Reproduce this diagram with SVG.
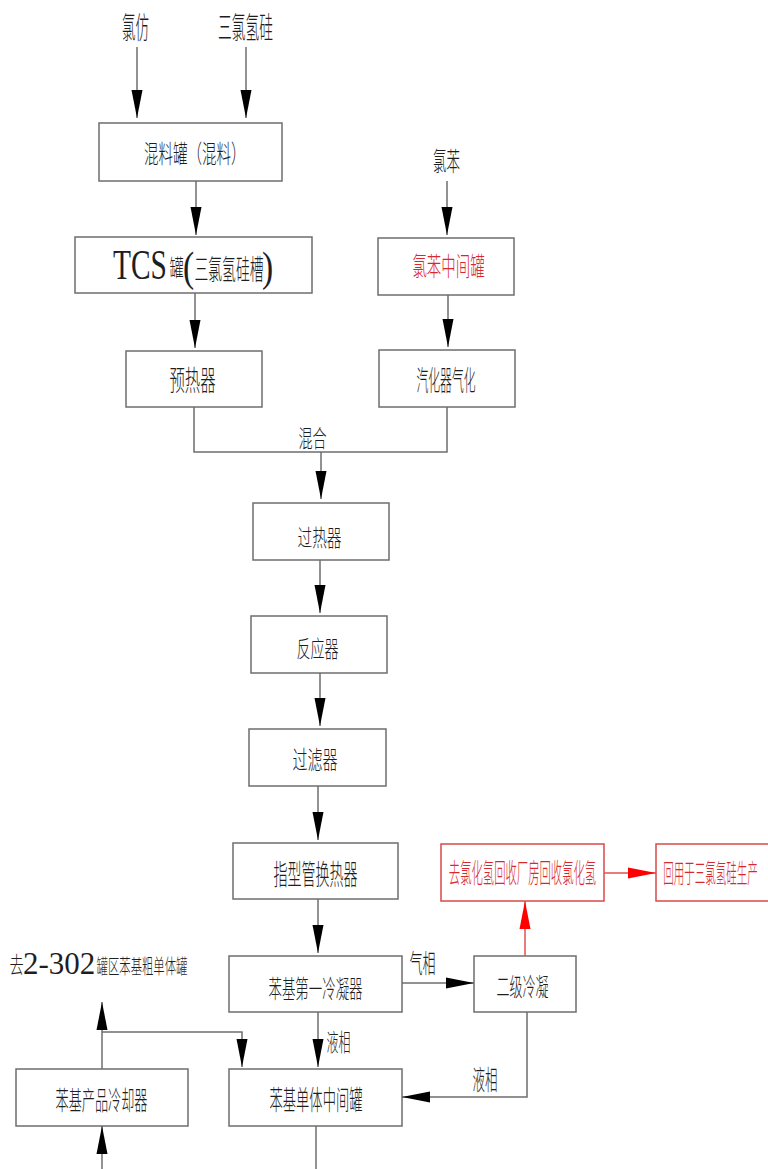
<svg xmlns="http://www.w3.org/2000/svg" width="768" height="1169" viewBox="0 0 768 1169">
  <defs>
    <marker id="arr" markerUnits="userSpaceOnUse" viewBox="0 -6 28 12" markerWidth="28" markerHeight="12" refX="28" refY="0" orient="auto">
      <path d="M0,-5.5 L28,0 L0,5.5 Z" fill="#000"/>
    </marker>
    <marker id="arrRed" markerUnits="userSpaceOnUse" viewBox="0 -6 28 12" markerWidth="28" markerHeight="12" refX="28" refY="0" orient="auto">
      <path d="M0,-5.5 L28,0 L0,5.5 Z" fill="#f00"/>
    </marker>
    <style>
      .box { fill: #fff; stroke: #6e6e6e; stroke-width: 1.5; }
      .boxR { fill: #fff; stroke: #d84a4a; stroke-width: 1.5; }
      .ln { fill: none; stroke: #6e6e6e; stroke-width: 1.5; }
      .lnR { fill: none; stroke: #e05050; stroke-width: 1.5; }
      .a { marker-end: url(#arr); }
      .aR { marker-end: url(#arrRed); }
      .t { font-family: "Noto Sans CJK SC", "Noto Sans", sans-serif; font-weight: 300; fill: #1e1e1e; text-anchor: middle; }
      .tR { font-family: "Noto Sans CJK SC", "Noto Sans", sans-serif; font-weight: 300; fill: #d8282f; text-anchor: middle; }
      .s { font-family: "Liberation Serif", "Times New Roman", serif; fill: #1e1e1e; }
    </style>
  </defs>

  <rect width="768" height="1169" fill="#fff"/>

  <!-- feed labels (condensed CAD-style lettering via horizontal scale) -->
  <g id="feed-chloroform"><text class="t" font-size="30" transform="translate(135.5,38) scale(0.45,1)">氯仿</text></g>
  <g id="feed-tcs"><text class="t" font-size="30" transform="translate(245.5,38) scale(0.458,1)">三氯氢硅</text></g>
  <g id="feed-chlorobenzene"><text class="t" font-size="26" transform="translate(446.5,171) scale(0.52,1)">氯苯</text></g>

  <!-- process units -->
  <g id="mix-tank">
    <rect class="box" x="99" y="123" width="183" height="58"/>
    <text class="t" font-size="25" style="text-anchor:start" transform="translate(144,163) scale(0.58,1)">混料罐（混料）</text>
  </g>
  <g id="tcs-tank">
    <rect class="box" x="75" y="237" width="237" height="56"/>
    <text class="s" font-size="42" transform="translate(113,279) scale(0.7,1)">TCS</text>
    <text class="t" font-size="23" transform="translate(176.5,276) scale(0.614,1)">罐</text>
    <text class="s" font-size="42" transform="translate(183,281) scale(0.8,1)">(</text>
    <text class="t" font-size="28" transform="translate(229,280) scale(0.494,1)">三氯氢硅槽</text>
    <text class="s" font-size="42" transform="translate(262,281) scale(0.8,1)">)</text>
  </g>
  <g id="preheater">
    <rect class="box" x="126" y="351" width="136" height="56"/>
    <text class="t" font-size="28" transform="translate(192.5,391) scale(0.55,1)">预热器</text>
  </g>
  <g id="chlorobenzene-tank">
    <rect class="box" x="378" y="238" width="136" height="57"/>
    <text class="tR" font-size="26" transform="translate(448.5,276) scale(0.555,1)">氯苯中间罐</text>
  </g>
  <g id="vaporizer">
    <rect class="box" x="379" y="350" width="136" height="57"/>
    <text class="t" font-size="28" transform="translate(446,391) scale(0.421,1)">汽化器气化</text>
  </g>
  <g id="superheater">
    <rect class="box" x="253" y="503" width="136" height="57"/>
    <text class="t" font-size="23" transform="translate(319.5,546) scale(0.64,1)">过热器</text>
  </g>
  <g id="reactor">
    <rect class="box" x="251" y="616" width="136" height="57"/>
    <text class="t" font-size="23" transform="translate(317.5,657) scale(0.61,1)">反应器</text>
  </g>
  <g id="filter">
    <rect class="box" x="249" y="729" width="137" height="57"/>
    <text class="t" font-size="24.5" transform="translate(315,769) scale(0.615,1)">过滤器</text>
  </g>
  <g id="finger-exchanger">
    <rect class="box" x="233" y="843" width="165" height="56"/>
    <text class="t" font-size="28" transform="translate(315.5,885) scale(0.5,1)">指型管换热器</text>
  </g>
  <g id="first-condenser">
    <rect class="box" x="229" y="956" width="173" height="56"/>
    <text class="t" font-size="24.5" transform="translate(315.5,998) scale(0.549,1)">苯基第一冷凝器</text>
  </g>
  <g id="second-condenser">
    <rect class="box" x="474" y="956" width="102" height="56"/>
    <text class="t" font-size="24.5" transform="translate(522.5,996) scale(0.531,1)">二级冷凝</text>
  </g>
  <g id="monomer-tank">
    <rect class="box" x="229" y="1069" width="173" height="57"/>
    <text class="t" font-size="27" transform="translate(316,1110) scale(0.492,1)">苯基单体中间罐</text>
  </g>
  <g id="product-cooler">
    <rect class="box" x="16" y="1069" width="172" height="57"/>
    <text class="t" font-size="26" transform="translate(101.5,1110) scale(0.506,1)">苯基产品冷却器</text>
  </g>
  <g id="to-tank-farm">
    <text class="t" font-size="22.5" transform="translate(16.5,973) scale(0.628,1)">去</text>
    <text class="s" font-size="31" transform="translate(23,974)">2-302</text>
    <text class="t" font-size="20" transform="translate(142,974) scale(0.568,1)">罐区苯基粗单体罐</text>
  </g>
  <g id="hcl-recovery">
    <rect class="boxR" x="441" y="844" width="163" height="57"/>
    <text class="tR" font-size="27" transform="translate(522.5,883) scale(0.42,1)">去氯化氢回收厂房回收氯化氢</text>
  </g>
  <g id="reuse-tcs">
    <rect class="boxR" x="656" y="844" width="120" height="57"/>
    <text class="tR" font-size="26" transform="translate(710.5,883) scale(0.405,1)">回用于三氯氢硅生产</text>
  </g>

  <!-- connectors -->
  <g id="connectors">
    <line class="ln a" x1="137" y1="47" x2="137" y2="118"/>
    <line class="ln a" x1="246" y1="47" x2="246" y2="118"/>
    <line class="ln a" x1="196" y1="181" x2="196" y2="235"/>
    <line class="ln a" x1="195" y1="293" x2="195" y2="348"/>
    <line class="ln a" x1="447" y1="181" x2="447" y2="235"/>
    <line class="ln a" x1="448" y1="295" x2="448" y2="347"/>
    <polyline class="ln" points="194,407 194,452 447,452 447,407"/>
    <line class="ln a" x1="321" y1="452" x2="321" y2="499"/>
    <line class="ln a" x1="320" y1="560" x2="320" y2="613"/>
    <line class="ln a" x1="320" y1="673" x2="320" y2="726"/>
    <line class="ln a" x1="318" y1="786" x2="318" y2="840"/>
    <line class="ln a" x1="318" y1="899" x2="318" y2="953"/>
    <line class="ln a" x1="402" y1="983" x2="474" y2="983"/>
    <line class="ln a" x1="318" y1="1012" x2="318" y2="1067"/>
    <polyline class="ln a" points="527,1012 527,1097 402,1097"/>
    <line class="ln" x1="316" y1="1126" x2="316" y2="1169"/>
    <line class="ln a" x1="102" y1="1169" x2="102" y2="1126"/>
    <line class="ln a" x1="102" y1="1069" x2="102" y2="1002"/>
    <polyline class="ln a" points="102,1032 242,1032 242,1067"/>
    <line class="lnR aR" x1="525" y1="956" x2="525" y2="901"/>
    <line class="lnR aR" x1="604" y1="873" x2="656" y2="873"/>
    <text class="t" font-size="23.5" transform="translate(312.5,447) scale(0.6,1)">混合</text>
    <text class="t" font-size="26" transform="translate(422.5,973) scale(0.5,1)">气相</text>
    <text class="t" font-size="23.5" transform="translate(338.5,1051) scale(0.51,1)">液相</text>
    <text class="t" font-size="27" transform="translate(485,1090) scale(0.463,1)">液相</text>
  </g>
</svg>
